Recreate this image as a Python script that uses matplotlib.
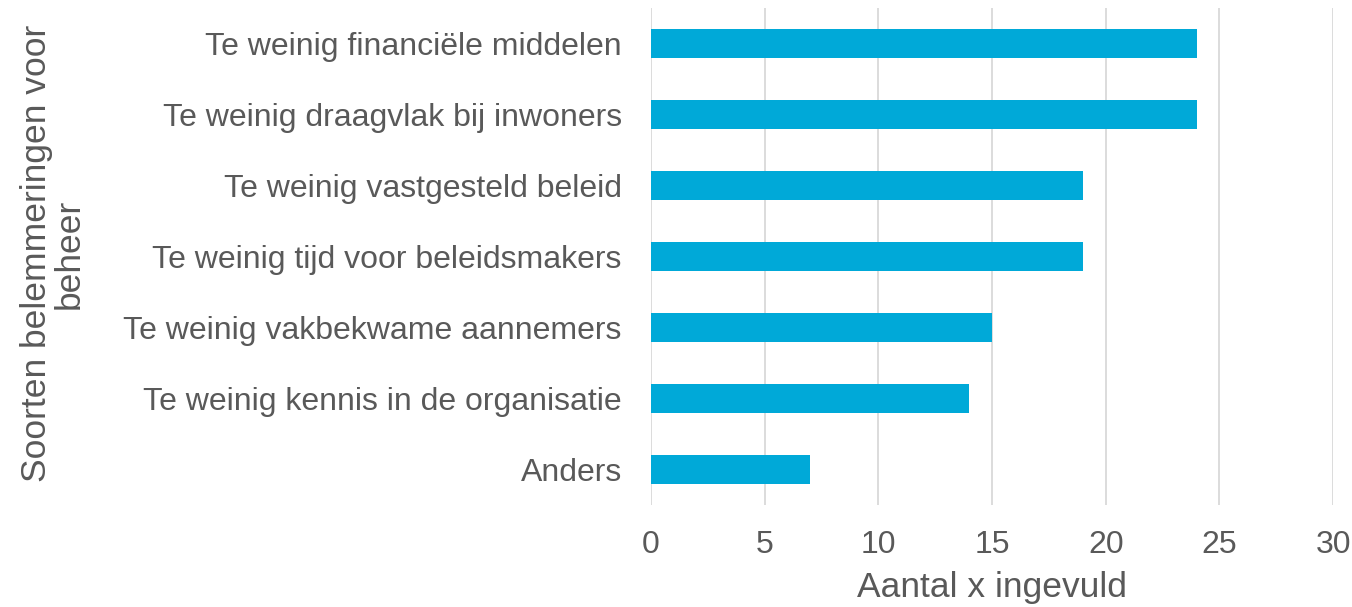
import matplotlib.pyplot as plt

plt.rcParams['font.family'] = ['Liberation Sans', 'DejaVu Sans']

categories = ["Te weinig financiële middelen",
              "Te weinig draagvlak bij inwoners",
              "Te weinig vastgesteld beleid",
              "Te weinig tijd voor beleidsmakers",
              "Te weinig vakbekwame aannemers",
              "Te weinig kennis in de organisatie",
              "Anders"]
values = [24, 24, 19, 19, 15, 14, 7]
xticks = [0, 5, 10, 15, 20, 25, 30]

grey = '#595959'

fig = plt.figure(figsize=(13.52, 6.07), dpi=100)
ax = fig.add_axes([0.4815, 0.168, 0.5045, 0.819])

pos = list(range(len(categories)))
ax.barh(pos, values, height=0.4, color='#00A9D8', zorder=3)
ax.set_yticks(pos)
ax.set_yticklabels(categories)
ax.set_ylim(len(categories) - 0.5, -0.5)
ax.set_xlim(0, 30)
ax.set_xticks(xticks)
ax.grid(axis='x', color='#D9D9D9', linewidth=1.3, zorder=0)
for s in ax.spines.values():
    s.set_visible(False)
ax.tick_params(length=0, labelsize=23, labelcolor=grey)
ax.tick_params(axis='y', pad=21)
ax.tick_params(axis='x', pad=18)

ax.set_xlabel("Aantal x ingevuld", fontsize=25.5, color=grey, labelpad=8)
fig.text(0.039, 0.582, "Soorten belemmeringen voor\nbeheer", rotation=90,
         fontsize=25.5, color=grey, ha='center', va='center', linespacing=1.0)

fig.savefig('out.png', dpi=100)
